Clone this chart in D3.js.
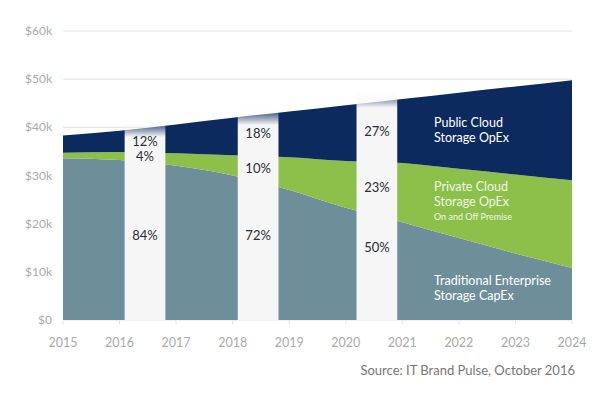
<!DOCTYPE html>
<html>
<head>
<meta charset="utf-8">
<script src="https://cdn.jsdelivr.net/npm/d3@7"></script>
<style>
  body { margin: 0; background: #fff; }
  text { font-family: Lato, "Open Sans", sans-serif; }
</style>
</head>
<body>
<script>
// data ($k per year)
var years = [2015, 2016, 2017, 2018, 2019, 2020, 2021, 2022, 2023, 2024];
var traditional = [33.6, 33.2, 32.0, 30.0, 27.0, 23.3, 20.3, 17.0, 13.8, 10.8];
var privateCloud = [1.1, 1.7, 2.6, 4.2, 6.8, 9.7, 12.3, 14.4, 16.4, 18.2];
var publicCloud = [3.6, 4.4, 6.0, 7.8, 9.5, 11.6, 13.3, 15.8, 18.3, 20.8];
var yTicks = [0, 10, 20, 30, 40, 50, 60];

// share callouts in the white columns
var gapYears = [2016.45, 2018.45, 2020.55];
var gapPub = ["12%", "18%", "27%"];
var gapPriv = ["4%", "10%", "23%"];
var gapTrad = ["84%", "72%", "50%"];

var W = 600, H = 399;
var svg = d3.select("body").append("svg").attr("width", W).attr("height", H);

var x = d3.scaleLinear().domain([2015, 2024]).range([63, 572]);
var y = d3.scaleLinear().domain([0, 60]).range([320, 31]);

var rows = years.map(function(yr, i) {
  return { year: yr, trad: traditional[i], priv: privateCloud[i], pub: publicCloud[i] };
});
var keys = ["trad", "priv", "pub"];
var colors = { trad: "#6e8f9a", priv: "#8cc04b", pub: "#0d2a5f" };
var series = d3.stack().keys(keys)(rows);

// gridlines
svg.append("g").selectAll("line").data(yTicks).join("line")
  .attr("x1", x(2015)).attr("x2", x(2024))
  .attr("y1", function(d) { return y(d); }).attr("y2", function(d) { return y(d); })
  .attr("stroke", "#e2e2e2").attr("stroke-width", 1);

// y labels
svg.append("g").selectAll("text").data(yTicks).join("text")
  .attr("x", 52).attr("y", function(d) { return y(d) + 4; })
  .attr("text-anchor", "end").attr("font-size", 12).attr("fill", "#aaa")
  .text(function(d) { return d === 0 ? "$0" : "$" + d + "k"; });

// areas
var area = d3.area()
  .x(function(d) { return x(d.data.year); })
  .y0(function(d) { return y(d[0]); })
  .y1(function(d) { return y(d[1]); })
  .curve(d3.curveMonotoneX);

svg.append("g").selectAll("path").data(series).join("path")
  .attr("d", area)
  .attr("fill", function(d) { return colors[d.key]; });

// gap columns
var defs = svg.append("defs");
var grad = defs.append("linearGradient").attr("id", "fade").attr("x1", 0).attr("x2", 0).attr("y1", 0).attr("y2", 1);
grad.append("stop").attr("offset", 0).attr("stop-color", "#f6f6f7").attr("stop-opacity", 0);
grad.append("stop").attr("offset", 0.08).attr("stop-color", "#f6f6f7").attr("stop-opacity", 1);
grad.append("stop").attr("offset", 1).attr("stop-color", "#f6f6f7").attr("stop-opacity", 1);

var halfGap = 0.36;
var gaps = svg.append("g");
gapYears.forEach(function(g, i) {
  // total at nearest year to the gap, plus a little margin
  var idx = Math.round(g - 2015);
  var topVal = traditional[idx] + privateCloud[idx] + publicCloud[idx] + 2;
  gaps.append("rect")
    .attr("x", x(g - halfGap)).attr("width", x(g + halfGap) - x(g - halfGap))
    .attr("y", y(topVal)).attr("height", y(0) - y(topVal))
    .attr("fill", "url(#fade)");
});

// gap labels
var labelY = [
  [141, 156, 235],
  [133, 168, 235],
  [131, 187, 247]
];
gapYears.forEach(function(g, i) {
  var cx = x(g);
  [gapPub[i], gapPriv[i], gapTrad[i]].forEach(function(t, j) {
    gaps.append("text")
      .attr("x", cx).attr("y", labelY[i][j] + 5)
      .attr("text-anchor", "middle").attr("font-size", 13).attr("fill", "#2b2b33")
      .text(t);
  });
});

// x axis ticks and labels
svg.append("g").selectAll("line").data(years).join("line")
  .attr("x1", function(d) { return x(d); }).attr("x2", function(d) { return x(d); })
  .attr("y1", 321).attr("y2", 324).attr("stroke", "#e0e0e0");
svg.append("g").selectAll("text").data(years).join("text")
  .attr("x", function(d) { return x(d); }).attr("y", 347)
  .attr("text-anchor", "middle").attr("font-size", 12.5).attr("fill", "#aaa")
  .text(function(d) { return d; });

// series labels
var lab = svg.append("g");
function line(t, yy, fill, size) {
  lab.append("text").attr("x", 434).attr("y", yy).attr("fill", fill)
    .attr("font-size", size || 12.5).text(t);
}
line("Public Cloud", 127, "#fff");
line("Storage OpEx", 142, "#fff");
line("Private Cloud", 191, "#f0f7e4");
line("Storage OpEx", 206, "#f0f7e4");
line("On and Off Premise", 220, "#f0f7e4", 9);
line("Traditional Enterprise", 285, "#fff");
line("Storage CapEx", 300, "#fff");

// source
svg.append("text").attr("x", 575).attr("y", 375)
  .attr("text-anchor", "end").attr("font-size", 13).attr("fill", "#777")
  .text("Source: IT Brand Pulse, October 2016");
</script>
</body>
</html>
